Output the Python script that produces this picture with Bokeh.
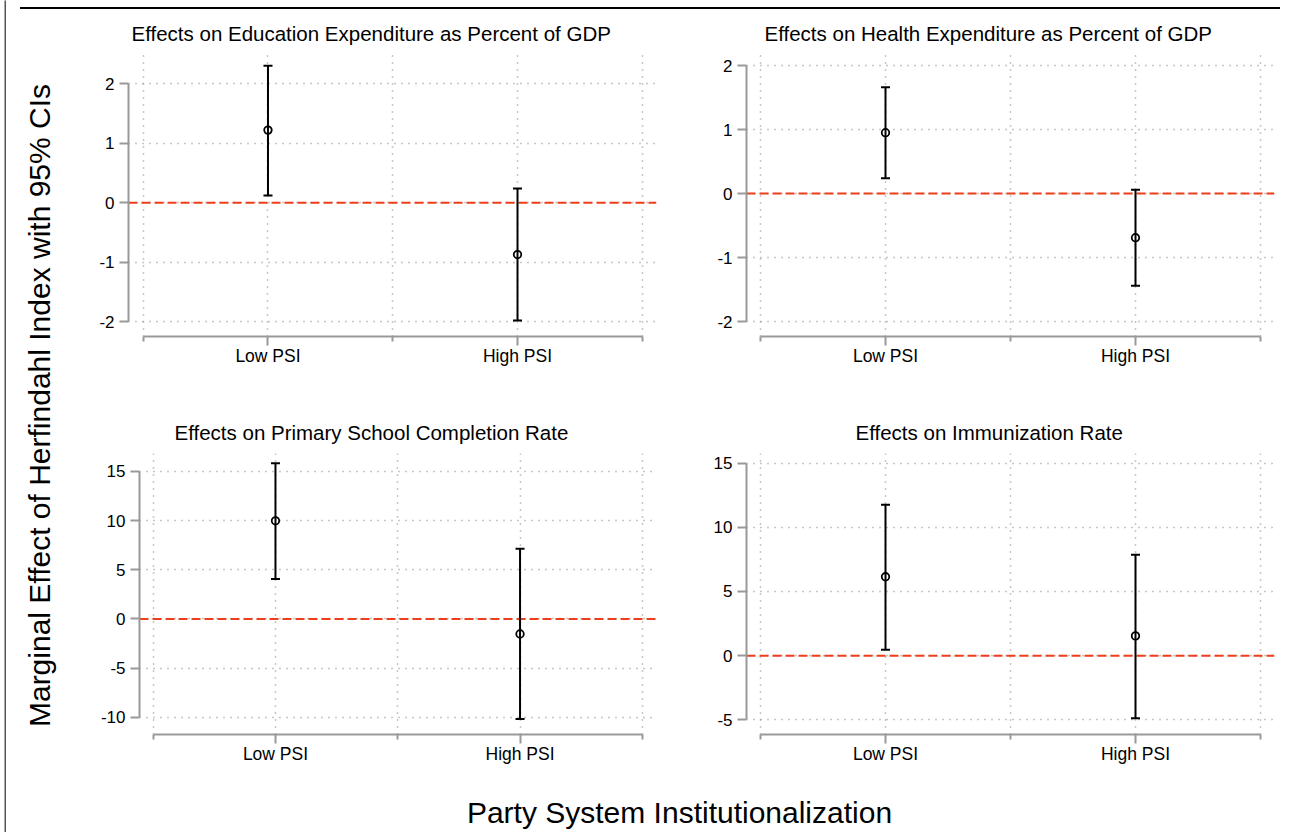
import math
from bokeh.plotting import figure
from bokeh.models import (ColumnDataSource, Whisker, TeeHead, Span, FixedTicker,
                          Range1d, Label, Div)
from bokeh.layouts import row, column
from bokeh.embed import file_html
from bokeh.resources import INLINE

# ---------------- data ----------------
categories = ["Low PSI", "High PSI"]

edu_est = [1.22, -0.87]
edu_lower = [0.12, -1.98]
edu_upper = [2.30, 0.24]
edu_ticks = [-2, -1, 0, 1, 2]

health_est = [0.95, -0.69]
health_lower = [0.24, -1.44]
health_upper = [1.66, 0.06]
health_ticks = [-2, -1, 0, 1, 2]

school_est = [9.98, -1.53]
school_lower = [4.07, -10.18]
school_upper = [15.85, 7.13]
school_ticks = [-10, -5, 0, 5, 10, 15]

immun_est = [6.15, 1.54]
immun_lower = [0.45, -4.87]
immun_upper = [11.77, 7.87]
immun_ticks = [-5, 0, 5, 10, 15]

titles = ["Effects on Education Expenditure as Percent of GDP",
          "Effects on Health Expenditure as Percent of GDP",
          "Effects on Primary School Completion Rate",
          "Effects on Immunization Rate"]
y_title = "Marginal Effect of Herfindahl Index with 95% CIs"
x_title = "Party System Institutionalization"

# ---------------- style ----------------
FONT = "Liberation Sans"
AXIS_GRAY = "#999999"
GRID_GRAY = "#8f8f8f"
RED = "#ee3f1c"


def panel(title, est, lower, upper, yticks, x_range, y_range, width, height,
          mb_left, mb_right, mb_top, mb_bottom, title_offset):
    p = figure(width=width, height=height,
               x_range=Range1d(*x_range), y_range=Range1d(*y_range),
               output_backend="svg", toolbar_location=None,
               min_border_left=mb_left, min_border_right=mb_right,
               min_border_top=mb_top, min_border_bottom=mb_bottom)
    p.outline_line_color = None
    p.background_fill_color = "white"
    p.border_fill_color = "white"

    p.title.text = title
    p.title.text_font = FONT
    p.title.text_font_size = "20.5px"
    p.title.text_font_style = "normal"
    p.title.text_color = "black"
    p.title.align = "left"
    p.title.offset = title_offset
    p.title.standoff = 19

    xpos = [i + 1 for i in range(len(categories))]
    xminor = [i + 0.5 for i in range(len(categories) + 1)]

    xa = p.xaxis[0]
    xa.ticker = FixedTicker(ticks=xpos, minor_ticks=xminor)
    xa.bounds = (xminor[0], xminor[-1])
    xa.major_label_overrides = {x: c for x, c in zip(xpos, categories)}
    ya = p.yaxis[0]
    ya.ticker = FixedTicker(ticks=yticks, minor_ticks=[])
    ya.bounds = (min(yticks), max(yticks))
    ya.major_label_overrides = {t: str(t) for t in yticks}

    for ax in (xa, ya):
        ax.axis_line_color = AXIS_GRAY
        ax.axis_line_width = 2
        ax.major_tick_line_color = AXIS_GRAY
        ax.major_tick_line_width = 2
        ax.major_tick_out = 9
        ax.major_tick_in = 0
        ax.minor_tick_line_color = AXIS_GRAY
        ax.minor_tick_line_width = 2
        ax.minor_tick_out = 5
        ax.minor_tick_in = 0
        ax.major_label_text_font = FONT
        ax.major_label_text_color = "black"
    xa.major_label_text_font_size = "17.5px"
    xa.major_label_standoff = 0
    ya.major_label_text_font_size = "17px"
    ya.major_label_standoff = 5

    for g in (p.xgrid[0], p.ygrid[0]):
        g.grid_line_color = GRID_GRAY
        g.grid_line_dash = "1 6"
        g.grid_line_width = 1.5
    p.xgrid[0].minor_grid_line_color = GRID_GRAY
    p.xgrid[0].minor_grid_line_dash = "1 6"
    p.xgrid[0].minor_grid_line_width = 1.5

    zero = Span(location=0, dimension="width", line_color=RED, line_width=2,
                line_dash="9 4", level="underlay")
    p.add_layout(zero)

    src = ColumnDataSource(dict(x=xpos, est=est, lower=lower, upper=upper))
    wh = Whisker(base="x", lower="lower", upper="upper", source=src,
                 dimension="height", line_color="black", line_width=2,
                 upper_head=TeeHead(size=9, line_color="black", line_width=2),
                 lower_head=TeeHead(size=9, line_color="black", line_width=2),
                 level="glyph")
    p.add_layout(wh)
    p.scatter("x", "est", source=src, marker="circle", size=7.5,
              line_color="black", line_width=1.8, fill_color="white")
    return p


tl = panel(titles[0], edu_est, edu_lower, edu_upper, edu_ticks,
           (0.441, 2.557), (-2.247, 2.49), 606, 386, 58, 20, 45, 59, 3)
tr = panel(titles[1], health_est, health_lower, health_upper, health_ticks,
           (0.444, 2.556), (-2.234, 2.172), 606, 386, 70, 8, 45, 59, 18)
bl = panel(titles[2], school_est, school_lower, school_upper, school_ticks,
           (0.444, 2.558), (-11.76, 16.83), 606, 375, 69, 20, 58, 36, 35)
br = panel(titles[3], immun_est, immun_lower, immun_upper, immun_ticks,
           (0.444, 2.556), (-6.146, 15.756), 606, 375, 70, 8, 58, 36, 109)


def blank_fig(width, height, fill="white"):
    f = figure(width=width, height=height, x_range=Range1d(0, width),
               y_range=Range1d(0, height), output_backend="svg",
               toolbar_location=None, x_axis_location=None, y_axis_location=None,
               min_border=0)
    f.grid.visible = False
    f.outline_line_color = None
    f.background_fill_color = fill
    f.border_fill_color = fill
    return f


ylab = blank_fig(64, 761)
ylab.add_layout(Label(x=32.7, y=365, text=y_title, angle=math.pi / 2,
                      text_align="center", text_baseline="middle",
                      text_font=FONT, text_font_size="30px", text_color="black"))

xlab = blank_fig(1276, 62)
xlab.add_layout(Label(x=673, y=20, text=x_title, text_align="center",
                      text_baseline="middle", text_font=FONT,
                      text_font_size="30px", text_color="black"))

left_gap = blank_fig(4, 832)
left_bar = blank_fig(2, 832, fill="#555555")
top_gap = blank_fig(1276, 7)
top_bar_gap = blank_fig(14, 2)
top_bar = Div(width=1260, height=2, margin=(0, 0, 0, 0),
              styles={"background-color": "#000000"})

layout = row(left_gap, left_bar,
             column(top_gap,
                    row(top_bar_gap, top_bar),
                    row(ylab, column(row(tl, tr), row(bl, br))),
                    xlab))

open("out.html", "w").write(file_html(layout, INLINE))
